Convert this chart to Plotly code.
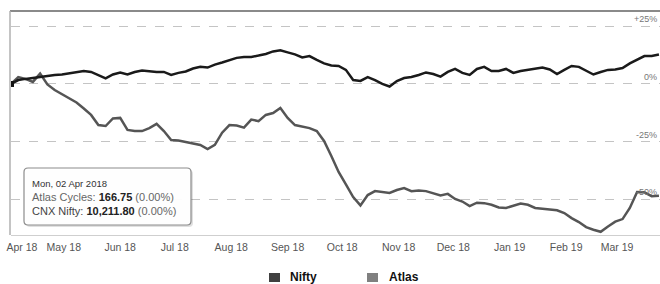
import pandas as pd
import plotly.graph_objects as go

# ---- data (percent change since 02 Apr 2018, sampled every 4 days) ----
dates = pd.date_range("2018-04-02", periods=90, freq="4D")

nifty_pct = [0.0, 1.7, 2.2, 2.6, 3.2, 3.7, 3.9, 4.1, 4.5, 5.2,
             5.6, 5.2, 3.7, 2.4, 4.1, 5.0, 4.1, 5.2, 5.8, 5.4,
             5.2, 5.2, 3.9, 4.8, 5.4, 6.7, 7.4, 7.1, 8.4, 9.3,
             10.4, 11.3, 11.7, 11.7, 12.3, 13.0, 14.1, 14.6, 13.7, 12.8,
             11.5, 12.1, 10.4, 8.9, 8.0, 7.8, 6.1, 1.7, 1.3, 3.0,
             1.7, 0.0, -1.1, 1.3, 2.6, 3.0, 3.9, 5.0, 4.3, 3.2,
             5.2, 6.5, 4.8, 3.9, 6.5, 7.4, 5.6, 5.6, 6.5, 4.8,
             5.6, 6.1, 6.5, 7.1, 6.3, 4.3, 6.1, 7.8, 7.4, 5.6,
             4.1, 5.2, 6.1, 6.3, 6.9, 8.9, 10.6, 12.1, 12.1, 12.8]

atlas_pct = [0.0, 3.0, 2.2, 0.9, 4.5, -0.2, -2.6, -4.3, -6.1, -8.0,
             -10.6, -13.4, -17.8, -18.2, -14.9, -14.7, -19.9, -20.4, -20.4, -19.1,
             -17.3, -20.4, -24.3, -24.5, -25.1, -25.8, -26.4, -28.2, -26.4, -21.1,
             -17.8, -18.0, -18.9, -15.4, -16.1, -13.4, -12.6, -10.4, -14.7, -17.8,
             -18.6, -19.1, -20.4, -24.7, -31.2, -38.1, -43.5, -49.0, -52.6, -48.1,
             -46.4, -46.8, -47.2, -45.9, -45.1, -46.4, -46.1, -46.4, -47.2, -48.3,
             -47.6, -49.8, -50.9, -52.9, -51.4, -51.6, -52.3, -53.5, -53.7, -52.9,
             -51.8, -52.3, -53.7, -54.0, -54.5, -54.7, -55.9, -58.1, -59.8, -62.0,
             -63.1, -64.0, -61.7, -59.6, -58.5, -53.7, -46.8, -46.9, -48.6, -48.4]

tick_dates = ["2018-04-08", "2018-05-01", "2018-06-01", "2018-07-01", "2018-08-01",
              "2018-09-01", "2018-10-01", "2018-11-01", "2018-12-01", "2019-01-01",
              "2019-02-01", "2019-03-01"]
tick_labels = ["Apr 18", "May 18", "Jun 18", "Jul 18", "Aug 18", "Sep 18",
               "Oct 18", "Nov 18", "Dec 18", "Jan 19", "Feb 19", "Mar 19"]

y_ticks = [25, 0, -25, -50]
y_tick_labels = ["+25%", "0%", "-25%", "-50%"]

legend_names = ["Nifty", "Atlas"]
legend_colors = ["#404040", "#808080"]

tooltip_date = "Mon, 02 Apr 2018"
atlas_price = "166.75"
nifty_price = "10,211.80"

# ---- layout geometry helpers (pixel -> paper) ----
W, H = 660, 284
L, T, R, B = 11, 11, 0, 49
PW, PH = W - L - R, H - T - B


def px(x):
    return (x - L) / PW


def py(y):
    return (H - B - y) / PH


def rrect(x0, y0, x1, y1, r):
    rx, ry = r / PW, r / PH
    a, b, c, d = px(x0), py(y0), px(x1), py(y1)
    return (f"M {a+rx},{b} L {c-rx},{b} Q {c},{b} {c},{b-ry} "
            f"L {c},{d+ry} Q {c},{d} {c-rx},{d} L {a+rx},{d} "
            f"Q {a},{d} {a},{d+ry} L {a},{b-ry} Q {a},{b} {a+rx},{b} Z")


fig = go.Figure()
fig.add_trace(go.Scatter(x=dates, y=atlas_pct, mode="lines", name="Atlas",
                         line=dict(color="#555555", width=2.5), showlegend=False))
fig.add_trace(go.Scatter(x=dates, y=nifty_pct, mode="lines", name="Nifty",
                         line=dict(color="#1a1a1a", width=2.5), showlegend=False))
fig.add_trace(go.Scatter(x=[dates[0]], y=[nifty_pct[0]], mode="markers",
                         marker=dict(symbol="square", size=6, color="#111"),
                         showlegend=False, hoverinfo="skip"))

fig.update_xaxes(range=["2018-04-02", "2019-03-24 14:00"], tickvals=tick_dates,
                 ticktext=tick_labels, showgrid=False, zeroline=False,
                 showline=True, linecolor="#cfcfcf", linewidth=1,
                 tickfont=dict(family="Liberation Sans, Arial", size=10.5, color="#555"),
                 ticks="", ticklabelstandoff=2)
fig.update_yaxes(range=[-65.4, 31.6], tickvals=y_ticks, showticklabels=False,
                 showgrid=True, gridcolor="#c4c4c4", griddash="dash", gridwidth=1,
                 zeroline=False)

shapes = [
    dict(type="line", xref="paper", yref="paper", x0=px(10), x1=1, y0=py(11), y1=py(11),
         line=dict(color="#8a8a8a", width=2)),
    dict(type="line", xref="paper", yref="paper", x0=px(10), x1=px(10), y0=py(11), y1=0,
         line=dict(color="#b0b0b0", width=1.5)),
    dict(type="path", xref="paper", yref="paper", path=rrect(26, 170, 193, 227, 4),
         fillcolor="rgba(0,0,0,0.12)", line=dict(width=0)),
    dict(type="path", xref="paper", yref="paper", path=rrect(24, 168, 191, 225, 4),
         fillcolor="rgba(255,255,255,0.96)", line=dict(color="#8c8c8c", width=1.2)),
]
for i, (nm, col) in enumerate(zip(legend_names, legend_colors)):
    x0 = 269 + i * 98
    shapes.append(dict(type="rect", xref="paper", yref="paper", x0=px(x0), x1=px(x0 + 11),
                       y0=py(273), y1=py(282), fillcolor=col, line=dict(width=0)))

annotations = []
for v, t in zip(y_ticks, y_tick_labels):
    annotations.append(dict(x=px(659), y=v, xref="paper", yref="y", text=t,
                            showarrow=False, xanchor="right", yanchor="bottom",
                            font=dict(family="Liberation Sans, Arial", size=9, color="#777")))
for i, nm in enumerate(legend_names):
    annotations.append(dict(x=px(288 + i * 99), y=py(277), xref="paper", yref="paper",
                            text=f"<b>{nm}</b>", showarrow=False, xanchor="left",
                            yanchor="middle",
                            font=dict(family="Liberation Sans, Arial", size=12, color="#111")))
tip_font = "Liberation Sans, Arial"
annotations.append(dict(x=px(30), y=py(183), xref="paper", yref="paper", text=tooltip_date,
                        showarrow=False, xanchor="left", yanchor="middle",
                        font=dict(family=tip_font, size=9.5, color="#333")))
annotations.append(dict(x=px(30), y=py(197), xref="paper", yref="paper",
                        text=f"<span style='color:#666'>Atlas Cycles: </span><b>{atlas_price}</b>"
                             f"<span style='color:#666'> (0.00%)</span>",
                        showarrow=False, xanchor="left", yanchor="middle",
                        font=dict(family=tip_font, size=11, color="#222")))
annotations.append(dict(x=px(30), y=py(211), xref="paper", yref="paper",
                        text=f"<span style='color:#444'>CNX Nifty: </span><b>{nifty_price}</b>"
                             f"<span style='color:#666'> (0.00%)</span>",
                        showarrow=False, xanchor="left", yanchor="middle",
                        font=dict(family=tip_font, size=11, color="#222")))

fig.update_layout(width=W, height=H, margin=dict(l=L, r=R, t=T, b=B),
                  paper_bgcolor="white", plot_bgcolor="white",
                  shapes=shapes, annotations=annotations, showlegend=False)

fig.write_html("out.html", config={"displayModeBar": False},
               post_script="document.body.style.margin='0';document.body.style.overflow='hidden';")
